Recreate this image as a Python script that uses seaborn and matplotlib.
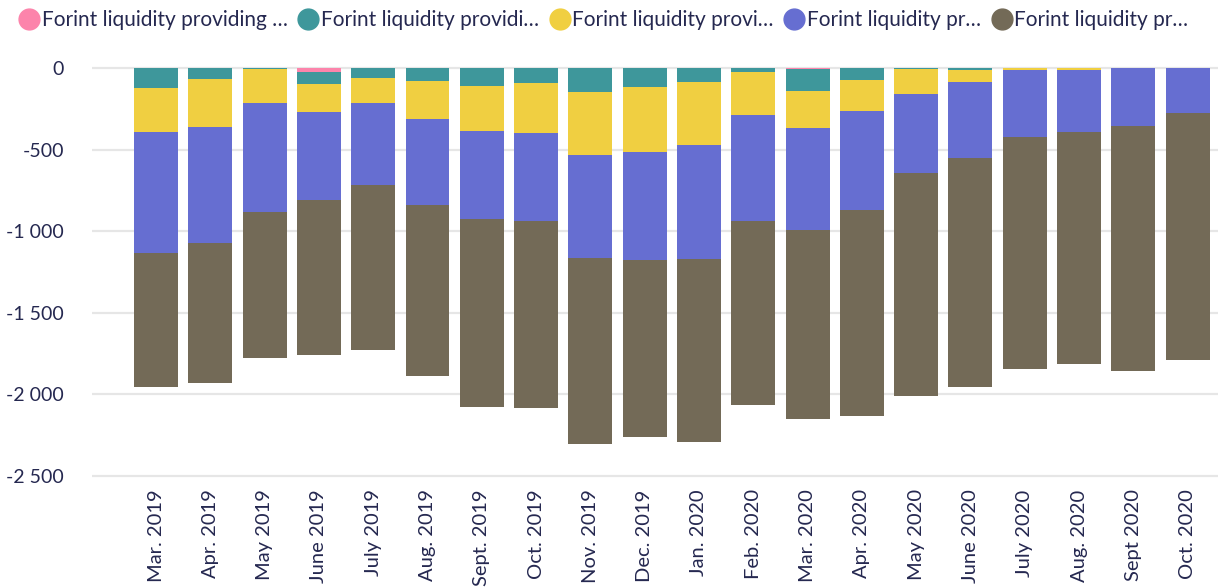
import numpy as np
import pandas as pd
import seaborn as sns
import matplotlib.pyplot as plt
from matplotlib.lines import Line2D
from matplotlib.ticker import FuncFormatter

# Months on the x axis
MONTHS = ["Mar. 2019", "Apr. 2019", "May 2019", "June 2019", "July 2019", "Aug. 2019",
          "Sept. 2019", "Oct. 2019", "Nov. 2019", "Dec. 2019", "Jan. 2020", "Feb. 2020",
          "Mar. 2020", "Apr. 2020", "May 2020", "June 2020", "July 2020", "Aug. 2020",
          "Sept 2020", "Oct. 2020"]

# Stack components, top (nearest zero) to bottom
PINK = [0, 0, 0, -25, 0, 0, 0, 0, 0, 0, 0, 0, -8, 0, 0, 0, 0, 0, 0, 0]
TEAL = [-120, -67, -8, -73, -61, -80, -110, -92, -147, -116, -86, -25, -135, -73, -5, -12,
        0, 0, 0, 0]
YELLOW = [-275, -294, -208, -171, -153, -233, -275, -306, -386, -398, -386, -263, -226,
          -190, -153, -73, -10, -12, -3, 0]
BLUE = [-740, -714, -667, -538, -502, -526, -539, -539, -630, -661, -698, -649, -624,
        -606, -483, -465, -410, -378, -355, -275]
BROWN = [-820, -857, -892, -953, -1014, -1045, -1155, -1143, -1143, -1088, -1124, -1130,
         -1155, -1265, -1369, -1406, -1424, -1426, -1498, -1516]

LABELS = ["Forint liquidity providing …", "Forint liquidity providi…",
          "Forint liquidity provi…", "Forint liquidity pr…", "Forint liquidity pr…"]
COLORS = ["#FC84AB", "#3E979B", "#F0CF41", "#666ED1", "#736A57"]
TEXT = "#252850"

sns.set_style("white")
plt.rcParams["font.family"] = ["Lato", "DejaVu Sans"]

fig = plt.figure(figsize=(12.18, 5.88), dpi=100)
ax = fig.add_axes([0.0755, 0.182, 0.9245, 0.733])

series = [PINK, TEAL, YELLOW, BLUE, BROWN]
cum = np.cumsum(np.array(series), axis=0)

# draw the deepest cumulative first, then overlay shallower sums
for i in range(len(series) - 1, -1, -1):
    df = pd.DataFrame({"month": MONTHS, "value": cum[i]})
    sns.barplot(data=df, x="month", y="value", order=MONTHS, color=COLORS[i],
                saturation=1, width=0.81, linewidth=0, ax=ax, zorder=3)

ax.set_xlim(-1.18, 19.56)
ax.set_ylim(-2530, 110)
ax.set_yticks([0, -500, -1000, -1500, -2000, -2500])
ax.yaxis.set_major_formatter(FuncFormatter(lambda v, p: f"{int(v):,}".replace(",", " ")))
ax.grid(axis="y", color="#E6E6E6", linewidth=1.6, zorder=0)
ax.grid(axis="x", visible=False)
for s in ax.spines.values():
    s.set_visible(False)
ax.set_xlabel("")
ax.set_ylabel("")
ax.tick_params(axis="y", length=0, pad=20, labelsize=14, labelcolor=TEXT)
ax.tick_params(axis="x", length=0, pad=6, labelsize=14.5, labelcolor=TEXT)
plt.setp(ax.get_xticklabels(), rotation=90)

handles = [Line2D([0], [0], marker="o", linestyle="", markersize=15,
                  markerfacecolor=c, markeredgecolor=c) for c in COLORS]
fig.legend(handles, LABELS, loc="upper left", bbox_to_anchor=(0.0, 1.015), ncol=5,
           frameon=False, fontsize=15, handletextpad=0.1, columnspacing=0.5,
           labelcolor=TEXT, handlelength=1.0)

fig.savefig("out.png", dpi=100)
